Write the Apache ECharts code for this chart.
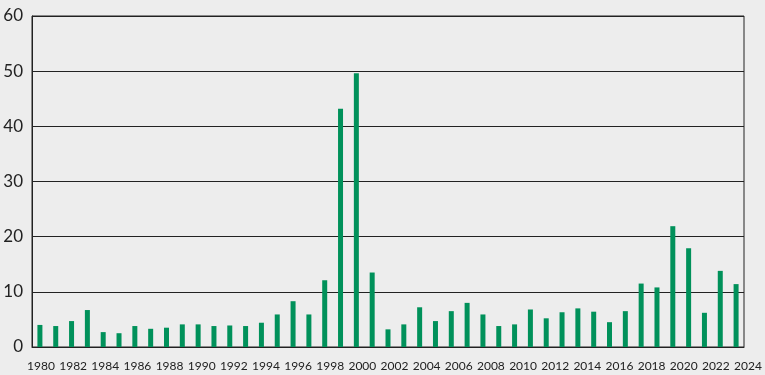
<!DOCTYPE html>
<html>
<head>
<meta charset="utf-8">
<script src="https://cdn.jsdelivr.net/npm/echarts@6/dist/echarts.min.js"></script>
<style>
html,body{margin:0;padding:0;background:#ededed;}
#c{width:765px;height:375px;}
</style>
</head>
<body>
<div id="c"></div>
<script>
const years = [];
for (let y = 1980; y <= 2024; y++) years.push(String(y));
const tickLabels = ['1980','1982','1984','1986','1988','1990','1992','1994','1996','1998','2000','2002','2004','2006','2008','2010','2012','2014','2016','2018','2020','2022','2024'];
const values = [
  4.0, 3.8, 4.7, 6.7, 2.7, 2.5, 3.8, 3.3, 3.5, 4.1,
  4.1, 3.8, 3.9, 3.8, 4.4, 5.9, 8.3, 5.9, 12.1, 43.2,
  49.6, 13.5, 3.2, 4.1, 7.2, 4.7, 6.5, 8.0, 5.9, 3.8,
  4.1, 6.8, 5.2, 6.3, 7.0, 6.4, 4.5, 6.5, 11.5, 10.8,
  21.9, 17.9, 6.2, 13.8, 11.4
];
const yTicks = [0, 10, 20, 30, 40, 50, 60];

const chart = echarts.init(document.getElementById('c'));
chart.setOption({
  backgroundColor: '#ededed',
  animation: false,
  textStyle: { fontFamily: 'Lato' },
  grid: [
    { left: 32, right: 21, top: 16, bottom: 28, show: true, borderColor: '#222', borderWidth: 1, backgroundColor: 'transparent' },
    { left: 41, right: 17, top: 16, bottom: 28, show: false }
  ],
  xAxis: [
    {
      type: 'category', gridIndex: 0, data: years, boundaryGap: true,
      axisLine: { show: true, lineStyle: { color: '#222', width: 1 } },
      axisTick: { show: false }, axisLabel: { show: false }, splitLine: { show: false }
    },
    {
      type: 'category', gridIndex: 1, data: tickLabels, boundaryGap: false,
      axisLine: { show: false }, axisTick: { show: false }, splitLine: { show: false },
      axisLabel: { show: true, interval: 0, color: '#222', fontSize: 12, margin: 13, fontFamily: 'Lato' }
    }
  ],
  yAxis: [
    {
      type: 'value', gridIndex: 0, min: yTicks[0], max: yTicks[yTicks.length - 1], interval: 10,
      axisLine: { show: true, lineStyle: { color: '#222', width: 1 } },
      axisTick: { show: false },
      axisLabel: { color: '#222', fontSize: 17, margin: 9, fontFamily: 'Lato' },
      splitLine: { show: true, lineStyle: { color: '#222', width: 1 } }
    },
    {
      type: 'value', gridIndex: 1, min: 0, max: 60, show: false
    }
  ],
  series: [
    {
      type: 'bar', xAxisIndex: 0, yAxisIndex: 0, data: values,
      barWidth: 5, itemStyle: { color: '#00915a' }
    }
  ]
});
</script>
</body>
</html>
